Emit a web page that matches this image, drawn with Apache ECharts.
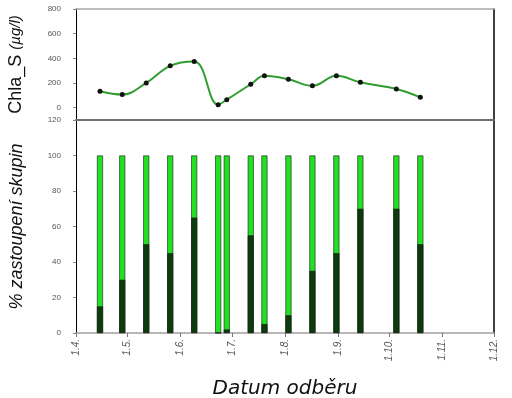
<!DOCTYPE html>
<html>
<head>
<meta charset="utf-8">
<script src="https://cdn.jsdelivr.net/npm/echarts@6/dist/echarts.min.js"></script>
<style>
  html, body { margin: 0; padding: 0; background: #fff; }
  #main { width: 512px; height: 398px; }
</style>
</head>
<body>
<div id="main"></div>
<script>
// sampling dates (day.month.)
var dates = ["15.4.", "28.4.", "12.5.", "26.5.", "9.6.", "23.6.", "28.6.", "12.7.", "20.7.",
  "3.8.", "17.8.", "31.8.", "14.9.", "5.10.", "19.10."];
var chla = [133, 106, 201, 339, 374, 24, 65, 190, 258, 230, 177, 258, 206, 152, 84];
var darkPct = [15, 30, 50, 45, 65, 0, 2, 55, 5, 10, 35, 45, 70, 70, 50];
var lightPct = [85, 70, 50, 55, 35, 100, 98, 45, 95, 90, 65, 55, 30, 30, 50];
var monthTicks = ["1.4.", "1.5.", "1.6.", "1.7.", "1.8.", "1.9.", "1.10.", "1.11.", "1.12."];
var chlaTicks = [0, 200, 400, 600, 800];

// day offset from 1.4.
var monthStart = { 4: 0, 5: 30, 6: 61, 7: 91, 8: 122, 9: 153, 10: 183, 11: 214, 12: 244 };
function dayOf(s) {
  var p = s.split(".");
  return monthStart[+p[1]] + (+p[0]) - 1;
}
var xs = dates.map(dayOf);
var tickVals = monthTicks.map(dayOf);
function pair(arr) {
  return arr.map(function (v, i) { return [xs[i], v]; });
}
// stacking by hand: light part sits on top of dark part
var lightTop = lightPct.map(function (v, i) { return [xs[i], darkPct[i] + v]; });

var chart = echarts.init(document.getElementById("main"));
var labelFont = "Liberation Sans";
var noLine = { show: false };

var option = {
  backgroundColor: "#fff",
  animation: false,
  grid: [
    { left: 76, right: 18, top: 9, height: 111, outerBoundsMode: "none" },
    { left: 76, right: 18, top: 120, bottom: 65, outerBoundsMode: "none" }
  ],
  xAxis: [
    {
      gridIndex: 0, type: "value", min: 0, max: 244, position: "bottom",
      axisLine: { onZero: false, lineStyle: { color: "#6e6e6e", width: 2 } },
      axisTick: noLine, axisLabel: noLine, splitLine: noLine
    },
    {
      gridIndex: 0, type: "value", min: 0, max: 244, position: "top",
      axisLine: { onZero: false, lineStyle: { color: "#a8a8a8", width: 1.5 } },
      axisTick: noLine, axisLabel: noLine, splitLine: noLine
    },
    {
      gridIndex: 1, type: "value", min: 0, max: 244, position: "bottom",
      axisLine: { onZero: false, lineStyle: { color: "#a0a0a0", width: 1.5 } },
      axisTick: { show: true, length: 4, lineStyle: { color: "#777" }, customValues: tickVals },
      axisLabel: {
        customValues: tickVals, rotate: 90, margin: 6,
        fontSize: 10, fontStyle: "italic", color: "#555", fontFamily: labelFont,
        formatter: function (v) { return monthTicks[tickVals.indexOf(v)] || ""; }
      },
      splitLine: noLine,
      name: "Datum odběru", nameLocation: "middle", nameGap: 46,
      nameTextStyle: { fontSize: 20, fontStyle: "italic", color: "#111", fontFamily: "DejaVu Sans" }
    }
  ],
  yAxis: [
    {
      gridIndex: 0, type: "value", min: -100, max: 800,
      axisLine: { show: true, onZero: false, lineStyle: { color: "#000", width: 1 } },
      axisTick: { show: true, length: 3, lineStyle: { color: "#888" }, customValues: chlaTicks },
      axisLabel: { customValues: chlaTicks, fontSize: 8, color: "#555", fontFamily: labelFont, margin: 15 },
      splitLine: noLine,
      name: "{n|Chla_S }{u|(µg/l)}", nameLocation: "middle", nameGap: 51,
      nameTextStyle: {
        rich: {
          n: { fontSize: 18, color: "#111", fontFamily: labelFont },
          u: { fontSize: 15, fontStyle: "italic", color: "#111", fontFamily: labelFont }
        }
      }
    },
    {
      gridIndex: 0, type: "value", min: -100, max: 800, position: "right",
      axisLine: { show: true, onZero: false, lineStyle: { color: "#000", width: 1.5 } },
      axisTick: noLine, axisLabel: noLine, splitLine: noLine
    },
    {
      gridIndex: 1, type: "value", min: 0, max: 120, interval: 20,
      axisLine: { show: true, onZero: false, lineStyle: { color: "#000", width: 1 } },
      axisTick: { show: true, length: 3, lineStyle: { color: "#888" } },
      axisLabel: { fontSize: 8, color: "#555", fontFamily: labelFont, margin: 15 },
      splitLine: noLine,
      name: "% zastoupení skupin", nameLocation: "middle", nameGap: 50,
      nameTextStyle: { fontSize: 18, fontStyle: "italic", color: "#111", fontFamily: labelFont }
    },
    {
      gridIndex: 1, type: "value", min: 0, max: 120, position: "right",
      axisLine: { show: true, onZero: false, lineStyle: { color: "#000", width: 1.5 } },
      axisTick: noLine, axisLabel: noLine, splitLine: noLine
    }
  ],
  series: [
    {
      name: "Chla_S", type: "line", xAxisIndex: 0, yAxisIndex: 0,
      data: pair(chla), smooth: 0.4,
      symbol: "circle", symbolSize: 5,
      itemStyle: { color: "#111" },
      lineStyle: { color: "#2f9e2f", width: 2 }
    },
    {
      name: "světlá", type: "bar", xAxisIndex: 2, yAxisIndex: 2,
      data: lightTop, barWidth: 6, barGap: "-100%", z: 2,
      itemStyle: { color: "#22e022", borderColor: "#1a1a1a", borderWidth: 0.6 }
    },
    {
      name: "tmavá", type: "bar", xAxisIndex: 2, yAxisIndex: 2,
      data: pair(darkPct), barWidth: 6, barGap: "-100%", z: 3,
      itemStyle: { color: "#0b3d0b", borderColor: "#1a1a1a", borderWidth: 0.6 }
    }
  ]
};
chart.setOption(option);
</script>
</body>
</html>
